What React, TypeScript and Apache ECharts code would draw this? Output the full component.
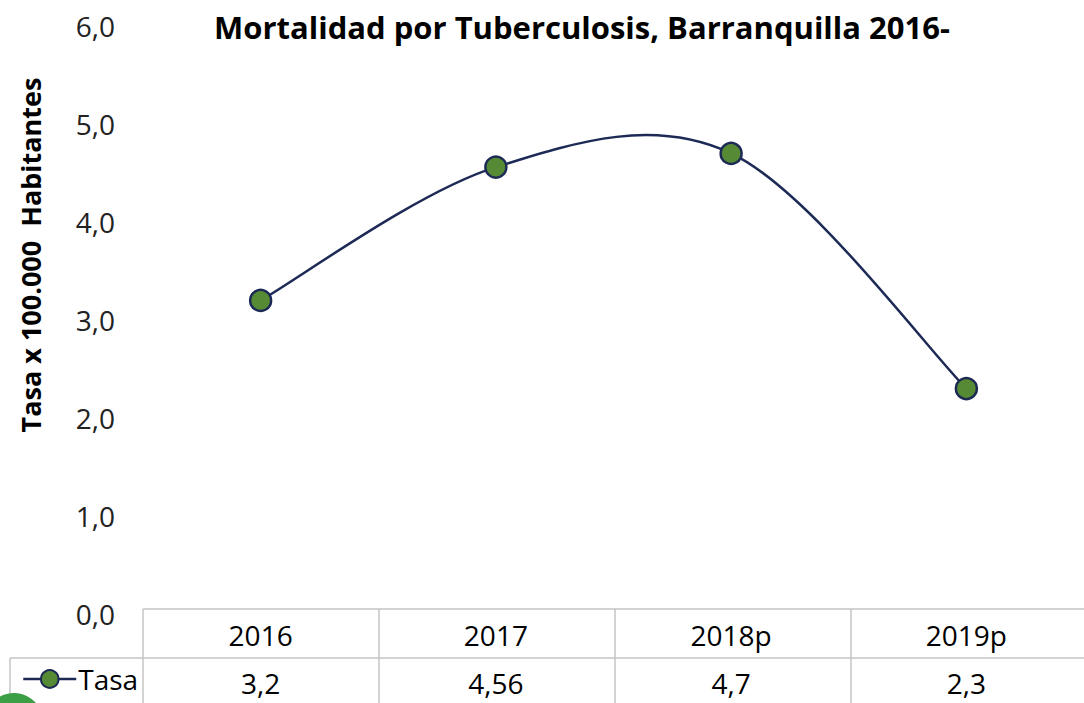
import React, { useEffect, useRef } from "react";
import * as echarts from "echarts";

const categories = ["2016", "2017", "2018p", "2019p"];
const tasa = [3.2, 4.56, 4.7, 2.3];
const tasaLabels = ["3,2", "4,56", "4,7", "2,3"];
const seriesName = "Tasa";
const titleText = "Mortalidad por Tuberculosis, Barranquilla 2016-";
const yAxisTitle = "Tasa x 100.000  Habitantes";

const W = 1084;
const H = 703;
const GL = 143;
const GR = 1087;
const GT = 26;
const GB = 614;
const LINE = "#1c2a55";

export default function App() {
  const ref = useRef<HTMLDivElement>(null);
  useEffect(() => {
    if (!ref.current) return;
    const chart = echarts.init(ref.current, null, { renderer: "svg" });
    const font = "'Open Sans', 'Noto Sans', sans-serif";
    const border = "#c4c4c4";
    const colW = (GR - GL) / categories.length;
    const lines: any[] = [];
    const mk = (x1: number, y1: number, x2: number, y2: number) => ({
      type: "line",
      shape: { x1, y1, x2, y2 },
      style: { stroke: border, lineWidth: 1.5 },
      silent: true,
    });
    lines.push(mk(GL, 609, W, 609));
    lines.push(mk(10, 658, W, 658));
    lines.push(mk(10, 658, 10, H));
    for (let i = 0; i < categories.length; i++) {
      lines.push(mk(GL + i * colW, 609, GL + i * colW, H));
    }
    const curveData = tasa.map((v, i) => [i, v]);
    chart.setOption({
      animation: false,
      textStyle: { fontFamily: font },
      title: {
        text: titleText,
        left: 577,
        textAlign: "center",
        top: 6,
        textStyle: { fontSize: 31, fontWeight: "bold", color: "#000", fontFamily: font },
      },
      legend: {
        left: 17,
        top: 660,
        itemWidth: 53,
        itemHeight: 22,
        itemGap: 4,
        textStyle: { fontSize: 28, color: "#000", fontFamily: font, padding: [0, 0, 0, -3] },
        lineStyle: { color: LINE, width: 2.5, opacity: 1 },
        data: [seriesName],
      },
      grid: { left: GL, right: W - GR, top: GT, bottom: H - GB, containLabel: false },
      xAxis: [
        {
          type: "category",
          data: categories,
          boundaryGap: true,
          axisLine: { show: false },
          axisTick: { show: false },
          splitLine: { show: false },
          axisLabel: {
            fontSize: 28,
            color: "#000",
            fontFamily: font,
            margin: 21,
            verticalAlign: "middle",
          },
        },
        {
          type: "category",
          data: tasaLabels,
          position: "bottom",
          offset: 48,
          boundaryGap: true,
          axisLine: { show: false },
          axisTick: { show: false },
          splitLine: { show: false },
          axisLabel: {
            fontSize: 28,
            color: "#000",
            fontFamily: font,
            margin: 21,
            verticalAlign: "middle",
          },
        },
      ],
      yAxis: {
        type: "value",
        min: 0,
        max: 6,
        interval: 1,
        axisLine: { show: false },
        axisTick: { show: false },
        splitLine: { show: false },
        axisLabel: {
          fontSize: 28,
          color: "#222",
          fontFamily: font,
          margin: 28,
          padding: [0, 0, 6, 0],
          formatter: (v: number) => v.toFixed(1).replace(".", ","),
        },
      },
      series: [
        {
          name: seriesName + "-curve",
          type: "custom",
          data: curveData,
          silent: true,
          z: 1,
          renderItem: (params: any, api: any) => {
            if (params.dataIndex !== 0) return null;
            const pts = curveData.map((d) => api.coord(d));
            const n = pts.length;
            let d = `M${pts[0][0]},${pts[0][1]}`;
            for (let i = 0; i < n - 1; i++) {
              const p0 = pts[Math.max(i - 1, 0)];
              const p1 = pts[i];
              const p2 = pts[i + 1];
              const p3 = pts[Math.min(i + 2, n - 1)];
              const c1x = p1[0] + (p2[0] - p0[0]) / 6;
              const c1y = p1[1] + (p2[1] - p0[1]) / 6;
              const c2x = p2[0] - (p3[0] - p1[0]) / 6;
              const c2y = p2[1] - (p3[1] - p1[1]) / 6;
              d += ` C${c1x},${c1y} ${c2x},${c2y} ${p2[0]},${p2[1]}`;
            }
            return {
              type: "path",
              shape: { pathData: d },
              style: { fill: "none", stroke: LINE, lineWidth: 2.5 },
            };
          },
        },
        {
          name: seriesName,
          type: "line",
          data: tasa,
          z: 3,
          symbol: "circle",
          symbolSize: 21,
          lineStyle: { color: LINE, width: 2.5, opacity: 0 },
          itemStyle: { color: "#578a35", borderColor: LINE, borderWidth: 2.5 },
        },
      ],
      graphic: [
        ...lines,
        {
          type: "text",
          x: 30,
          y: 255,
          rotation: Math.PI / 2,
          style: {
            text: yAxisTitle,
            fontSize: 27,
            fontWeight: "bold",
            fontFamily: font,
            fill: "#000",
            textAlign: "center",
            textVerticalAlign: "middle",
          },
        },
        {
          type: "circle",
          shape: { cx: 14, cy: 722, r: 29 },
          style: { fill: "#3c9e45" },
          silent: true,
        },
      ],
    });
    return () => chart.dispose();
  }, []);
  return (
    <div
      ref={ref}
      style={{ position: "fixed", left: 0, top: 0, width: W, height: H, background: "#fff" }}
    />
  );
}
